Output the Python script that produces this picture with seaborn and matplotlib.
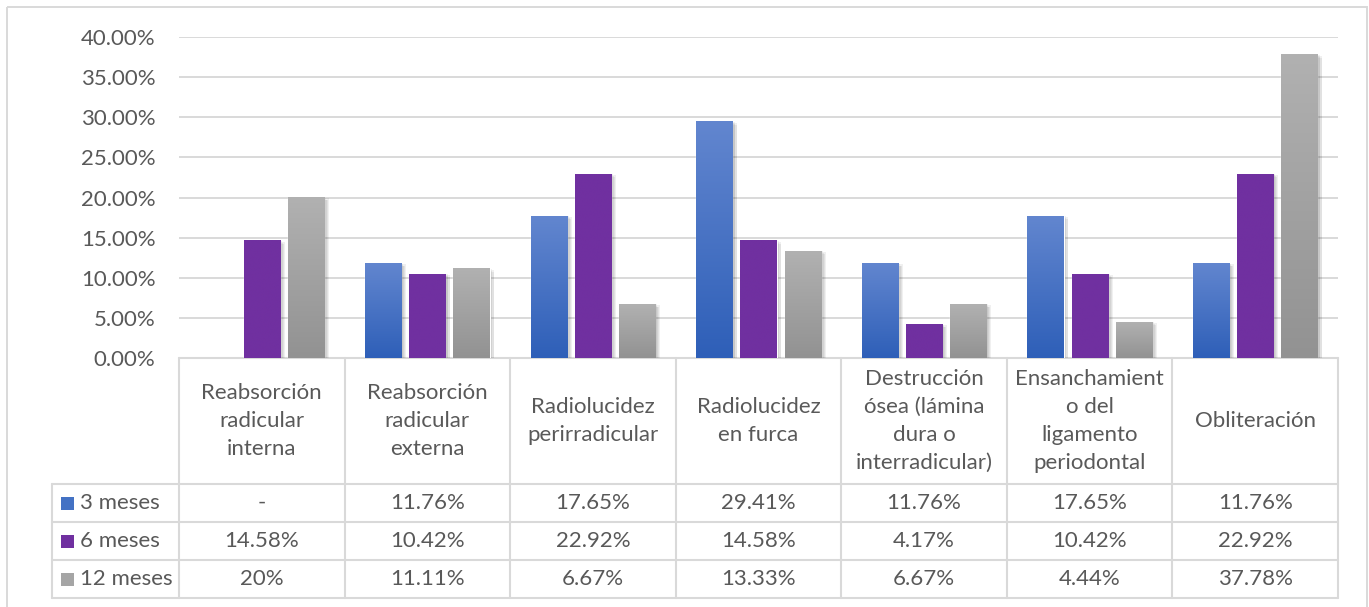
import numpy as np
import pandas as pd
import matplotlib
matplotlib.use("Agg")
import matplotlib.pyplot as plt
import matplotlib.patheffects as pe
from matplotlib.colors import LinearSegmentedColormap
from matplotlib.patches import Rectangle
import seaborn as sns

# ---- data -------------------------------------------------------------
categories = [
    "Reabsorción\nradicular\ninterna",
    "Reabsorción\nradicular\nexterna",
    "Radiolucidez\nperirradicular",
    "Radiolucidez\nen furca",
    "Destrucción\nósea (lámina\ndura o\ninterradicular)",
    "Ensanchamient\no del\nligamento\nperiodontal",
    "Obliteración",
]
periods = ["3 meses", "6 meses", "12 meses"]
meses_3 = [np.nan, 11.76, 17.65, 29.41, 11.76, 17.65, 11.76]
meses_6 = [14.58, 10.42, 22.92, 14.58, 4.17, 10.42, 22.92]
meses_12 = [20.00, 11.11, 6.67, 13.33, 6.67, 4.44, 37.78]
y_ticks = [0, 5, 10, 15, 20, 25, 30, 35, 40]

series = [meses_3, meses_6, meses_12]
df = pd.DataFrame({
    "categoria": categories * 3,
    "periodo": np.repeat(periods, len(categories)),
    "valor": meses_3 + meses_6 + meses_12,
})

# ---- style ------------------------------------------------------------
sns.set_theme(style="white")
plt.rcParams["font.family"] = ["Lato", "DejaVu Sans"]
TEXT = "#595959"
LINE = "#d9d9d9"
FS = 16

base_colors = {"3 meses": "#4472c4", "6 meses": "#7030a0", "12 meses": "#a5a5a5"}
gradients = [
    ("#6286cf", "#2e5fb8"),
    ("#7030a0", "#7030a0"),
    ("#b1b1b1", "#929292"),
]

W, H = 1369, 607
fig = plt.figure(figsize=(W / 100, H / 100), dpi=100)

# overlay in pixel coordinates for frame and data table
ov = fig.add_axes([0, 0, 1, 1], zorder=0)
ov.set_xlim(0, W)
ov.set_ylim(H, 0)
ov.axis("off")

x_left, x_right = 179, 1338
y_zero, y_top = 358, 37
ax = fig.add_axes([x_left / W, 1 - y_zero / H, (x_right - x_left) / W, (y_zero - y_top) / H], zorder=1)
ax.patch.set_alpha(0)

sns.barplot(
    data=df, x="categoria", y="valor", hue="periodo", hue_order=periods,
    order=categories, palette=base_colors, saturation=1, width=0.8, gap=0.18,
    ax=ax, legend=False, errorbar=None,
)

# gradient fill and soft shadow on every bar
shadow = [
    pe.SimplePatchShadow(offset=off, shadow_rgbFace="#000000", alpha=0.06)
    for off in [(1, -1), (2, -1.5), (3, -2), (1.5, 0), (3.5, -0.5)]
]
for cont, (top, bottom) in zip(ax.containers, gradients):
    cmap = LinearSegmentedColormap.from_list("g", [top, bottom])
    for bar in cont:
        h = bar.get_height()
        if not np.isfinite(h) or h <= 0:
            continue
        x0, w = bar.get_x(), bar.get_width()
        bar.set_path_effects(shadow + [pe.Normal()])
        grad = np.linspace(0, 1, 256).reshape(-1, 1)
        ax.imshow(grad, extent=[x0, x0 + w, 0, h], origin="upper", cmap=cmap,
                  aspect="auto", zorder=bar.get_zorder() + 0.1, interpolation="bilinear")

ax.set_xlim(-0.5, len(categories) - 0.5)
ax.set_ylim(0, 40)
ax.set_yticks(y_ticks)
ax.set_yticklabels([f"{v:.2f}%" for v in y_ticks])
ax.set_xticks([])
ax.set_xlabel("")
ax.set_ylabel("")
ax.tick_params(axis="y", length=0, pad=17, labelsize=FS, labelcolor=TEXT)
ax.yaxis.grid(True, color=LINE, lw=1.4)
ax.set_axisbelow(True)
for s in ax.spines.values():
    s.set_visible(False)

# ---- outer frame ------------------------------------------------------
ov.add_patch(Rectangle((7, 7), 1360, 603, fill=False, edgecolor=LINE, lw=1.4))

# ---- data table -------------------------------------------------------
col_edges = np.linspace(x_left, x_right, len(categories) + 1)
row_edges = [484, 522, 560, 598]
legend_left = 52
lw = 1.5
ov.plot([x_left, x_right], [y_zero, y_zero], color=LINE, lw=lw)
for xe in col_edges:
    ov.plot([xe, xe], [y_zero, row_edges[-1]], color=LINE, lw=lw)
for ye in row_edges:
    ov.plot([legend_left, x_right], [ye, ye], color=LINE, lw=lw)
ov.plot([legend_left, legend_left], [row_edges[0], row_edges[-1]], color=LINE, lw=lw)

centers = (col_edges[:-1] + col_edges[1:]) / 2
for xc, cat in zip(centers, categories):
    ov.text(xc, (y_zero + row_edges[0]) / 2, cat, ha="center", va="center",
            fontsize=FS, color=TEXT, linespacing=1.5)


def fmt(v):
    if not np.isfinite(v):
        return "-"
    if float(v).is_integer():
        return f"{v:g}%"
    return f"{v:.2f}%"


for r, (name, vals) in enumerate(zip(periods, series)):
    yc = (row_edges[r] + row_edges[r + 1]) / 2
    ov.add_patch(Rectangle((61, yc - 6.5), 13, 13, color=base_colors[name], lw=0))
    ov.text(80, yc, name, ha="left", va="center", fontsize=FS, color=TEXT)
    for xc, v in zip(centers, vals):
        ov.text(xc, yc, fmt(v), ha="center", va="center", fontsize=FS, color=TEXT)

fig.savefig("out.png", dpi=100, facecolor="white")
